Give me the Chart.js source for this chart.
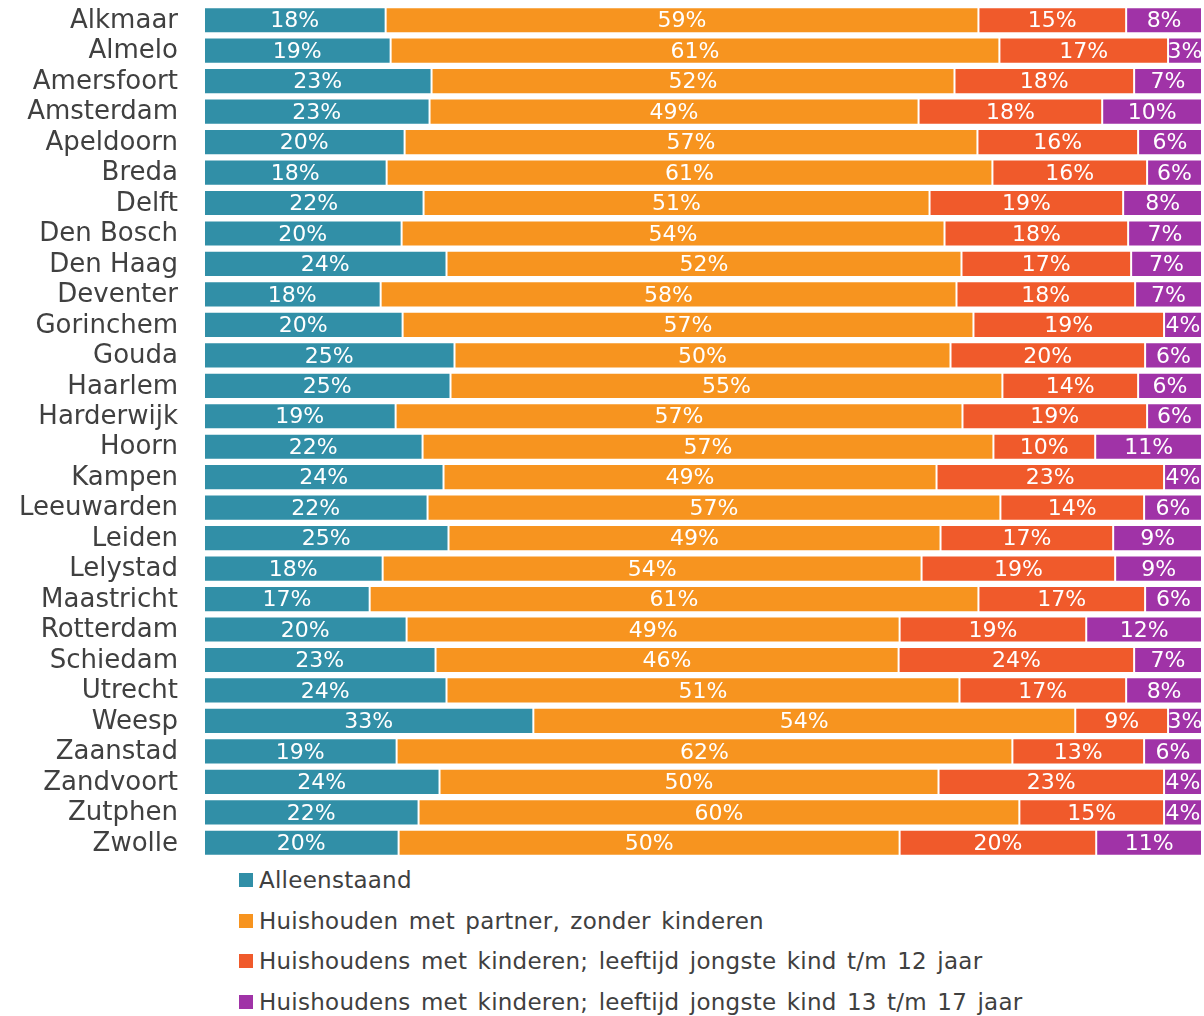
<!DOCTYPE html>
<html>
<head>
<meta charset="utf-8">
<script src="https://cdn.jsdelivr.net/npm/chart.js@4/dist/chart.umd.min.js"></script>
<style>
  body { margin: 0; background: #fff; font-family: "DejaVu Sans", Verdana, sans-serif; }
  #wrap { width: 1204px; }
  #legend { padding-left: 239px; }
  .item { display: flex; align-items: center; height: 40.5px; font-size: 23px; color: #404040; letter-spacing: 0.25px; word-spacing: 2.8px; }
  .box { width: 14px; height: 14px; margin-right: 6px; flex: none; }
</style>
</head>
<body>
<div id="wrap">
  <canvas id="c" width="1204" height="860"></canvas>
  <div id="legend"></div>
</div>
<script>
// steden
const cities = ['Alkmaar','Almelo','Amersfoort','Amsterdam','Apeldoorn','Breda','Delft','Den Bosch','Den Haag','Deventer',
  'Gorinchem','Gouda','Haarlem','Harderwijk','Hoorn','Kampen','Leeuwarden','Leiden','Lelystad','Maastricht',
  'Rotterdam','Schiedam','Utrecht','Weesp','Zaanstad','Zandvoort','Zutphen','Zwolle'];

// aandelen huishoudtypen (%)
const alleenstaand = [18.2,18.7,22.8,22.6,20.1,18.3,22.0,19.8,24.3,17.7,19.9,25.1,24.7,19.2,21.9,24.0,22.4,24.5,17.9,16.6,20.3,23.2,24.3,33.0,19.3,23.6,21.5,19.5];
const partnerZonderKind = [59.4,61.0,52.4,49.0,57.4,60.7,50.7,54.4,51.6,57.7,57.2,49.7,55.3,56.8,57.2,49.4,57.4,49.3,54.0,61.0,49.4,46.4,51.4,54.3,61.7,50.0,60.2,50.2];
const kindTot12 = [14.8,16.9,18.0,18.4,16.1,15.5,19.4,18.4,17.0,17.9,19.1,19.5,13.6,18.5,10.2,22.8,14.4,17.3,19.4,16.7,18.7,23.6,16.7,9.3,13.2,22.6,14.5,19.7];
const kind13tot17 = [7.6,3.4,6.8,10.0,6.4,5.5,7.9,7.4,7.1,6.7,3.8,5.7,6.4,5.5,10.7,3.8,5.8,8.9,8.7,5.7,11.6,6.8,7.6,3.4,5.8,3.8,3.8,10.6];

const seriesNames = ['Alleenstaand','Huishouden met partner, zonder kinderen',
  'Huishoudens met kinderen; leeftijd jongste kind t/m 12 jaar',
  'Huishoudens met kinderen; leeftijd jongste kind 13 t/m 17 jaar'];
const colors = ['#318FA7','#F7941F','#F05A2B','#A033A7'];
const values = [alleenstaand, partnerZonderKind, kindTot12, kind13tot17];

// percentages in de balken
const barLabels = {
  id: 'barLabels',
  afterDatasetsDraw(chart) {
    const ctx = chart.ctx;
    ctx.save();
    ctx.fillStyle = '#fff';
    ctx.font = '22px "DejaVu Sans"';
    ctx.textAlign = 'center';
    ctx.textBaseline = 'middle';
    chart.data.datasets.forEach((ds, i) => {
      chart.getDatasetMeta(i).data.forEach((bar, j) => {
        ctx.fillText(Math.round(ds.data[j]) + '%', (bar.x + bar.base) / 2, bar.y + 1.5);
      });
    });
    ctx.restore();
  }
};

// legenda als lijst onder de grafiek
const htmlLegend = {
  id: 'htmlLegend',
  afterUpdate(chart) {
    const el = document.getElementById('legend');
    el.innerHTML = '';
    chart.options.plugins.legend.labels.generateLabels(chart).forEach(item => {
      const row = document.createElement('div');
      row.className = 'item';
      const box = document.createElement('span');
      box.className = 'box';
      box.style.background = item.fillStyle;
      row.appendChild(box);
      row.appendChild(document.createTextNode(item.text));
      el.appendChild(row);
    });
  }
};

new Chart(document.getElementById('c'), {
  type: 'bar',
  data: {
    labels: cities,
    datasets: values.map((v, i) => ({
      label: seriesNames[i],
      data: v,
      backgroundColor: colors[i],
      borderColor: 'rgba(255,255,255,0.45)',
      borderWidth: 1,
      borderSkipped: false,
      categoryPercentage: 1,
      barPercentage: 0.86
    }))
  },
  options: {
    indexAxis: 'y',
    responsive: false,
    animation: false,
    layout: { padding: { top: 5, right: 2, bottom: 2 } },
    scales: {
      x: { stacked: true, min: 0, max: 100, display: false },
      y: {
        stacked: true,
        grid: { display: false, drawTicks: false },
        border: { display: false },
        ticks: { autoSkip: false, padding: 26, labelOffset: 1, color: '#404040', font: { family: 'DejaVu Sans', size: 26 } },
        afterFit(scale) {
          scale.width = 204;
          scale.paddingTop = 0;
          scale.paddingBottom = 0;
        }
      }
    },
    plugins: {
      legend: { display: false },
      tooltip: { enabled: false }
    }
  },
  plugins: [barLabels, htmlLegend]
});
</script>
</body>
</html>
